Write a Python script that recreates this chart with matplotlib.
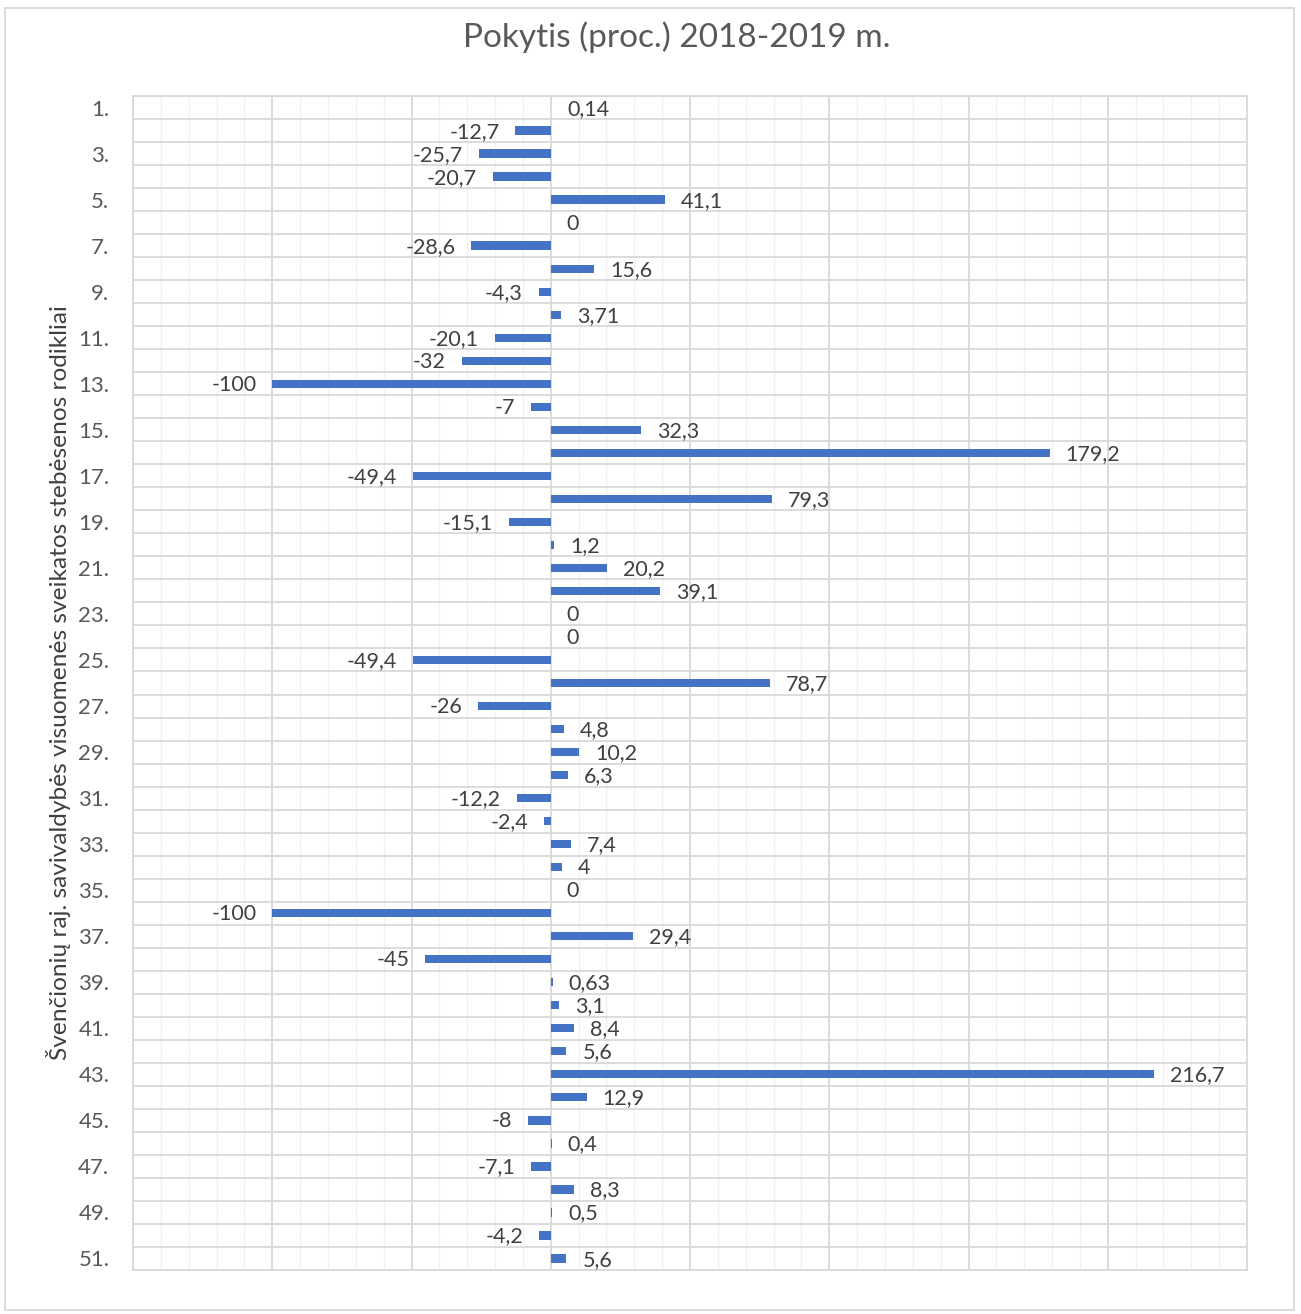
import numpy as np
import matplotlib
matplotlib.use("Agg")
import matplotlib.pyplot as plt
from matplotlib.ticker import MultipleLocator, FixedLocator
from matplotlib.patches import Rectangle

plt.rcParams['font.family'] = ['Lato', 'DejaVu Sans']

# rodikliu numeriai ir pokyciai
categories = [f"{i}." for i in range(1, 52)]
values = [0.14, -12.7, -25.7, -20.7, 41.1, 0, -28.6, 15.6, -4.3, 3.71,
          -20.1, -32, -100, -7, 32.3, 179.2, -49.4, 79.3, -15.1, 1.2,
          20.2, 39.1, 0, 0, -49.4, 78.7, -26, 4.8, 10.2, 6.3,
          -12.2, -2.4, 7.4, 4, 0, -100, 29.4, -45, 0.63, 3.1,
          8.4, 5.6, 216.7, 12.9, -8, 0.4, -7.1, 8.3, 0.5, -4.2, 5.6]
labels = ["0,14", "-12,7", "-25,7", "-20,7", "41,1", "0", "-28,6", "15,6", "-4,3", "3,71",
          "-20,1", "-32", "-100", "-7", "32,3", "179,2", "-49,4", "79,3", "-15,1", "1,2",
          "20,2", "39,1", "0", "0", "-49,4", "78,7", "-26", "4,8", "10,2", "6,3",
          "-12,2", "-2,4", "7,4", "4", "0", "-100", "29,4", "-45", "0,63", "3,1",
          "8,4", "5,6", "216,7", "12,9", "-8", "0,4", "-7,1", "8,3", "0,5", "-4,2", "5,6"]
title = "Pokytis (proc.) 2018-2019 m."
ylabel = "Švenčionių raj. savivaldybės visuomenės sveikatos stebėsenos rodikliai"

fig = plt.figure(figsize=(13.01, 13.14), dpi=100)
ax = fig.add_axes([133/1301, 1 - 1270/1314, (1247-133)/1301, (1270-96)/1314])

y = np.arange(len(values))
ax.barh(y, values, height=0.36, color="#4472C4", zorder=3)

for yi, v, lab in zip(y, values, labels):
    if v >= 0:
        ax.annotate(lab, (v, yi), xytext=(11.5, -0.8), textcoords="offset points",
                    ha="left", va="center", fontsize=15.5, color="#404040")
    else:
        ax.annotate(lab, (v, yi), xytext=(-11.5, -0.8), textcoords="offset points",
                    ha="right", va="center", fontsize=15.5, color="#404040")

ax.set_xlim(-150, 250)
ax.set_ylim(len(values) - 0.5, -0.5)
ax.xaxis.set_major_locator(MultipleLocator(50))
ax.xaxis.set_minor_locator(MultipleLocator(10))
ax.set_xticklabels([])
ax.tick_params(axis="x", which="both", length=0)

ax.set_yticks(y)
ax.set_yticklabels([c if i % 2 == 0 else "" for i, c in enumerate(categories)])
ax.yaxis.set_minor_locator(FixedLocator(np.arange(-0.5, len(values), 1)))
ax.tick_params(axis="y", which="both", length=0, pad=17, labelsize=16, labelcolor="#595959")

ax.grid(which="major", axis="x", color="#D9D9D9", linewidth=1.3, zorder=0)
ax.grid(which="minor", axis="x", color="#F2F2F2", linewidth=1.0, zorder=0)
ax.grid(which="minor", axis="y", color="#D9D9D9", linewidth=1.3, zorder=0)
ax.grid(which="major", axis="y", visible=False)
for s in ax.spines.values():
    s.set_color("#D9D9D9")
    s.set_linewidth(1.3)

ax.set_ylabel(ylabel, fontsize=17.6, color="#404040", labelpad=5)
fig.text(677/1301, 1 - 37/1314, title, ha="center", va="center", fontsize=24, color="#595959")

fig.patches.append(Rectangle((5/1301, 1 - 1310/1314), 1289/1301, 1302/1314,
                             transform=fig.transFigure, fill=False,
                             edgecolor="#D9D9D9", linewidth=1.3))

fig.savefig("out.png", dpi=100)
